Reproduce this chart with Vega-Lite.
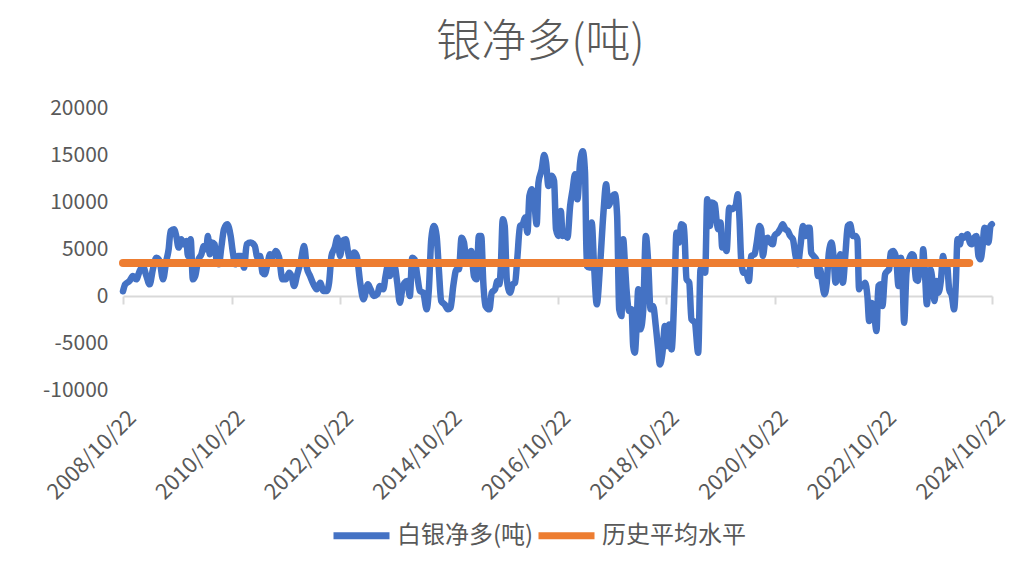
{
  "$schema": "https://vega.github.io/schema/vega-lite/v6.json",
  "autosize": "none",
  "width": 869,
  "height": 282,
  "padding": {"left": 123, "top": 108, "right": 27, "bottom": 193},
  "background": "white",
  "config": {"view": {"stroke": null}, "font": "Noto Sans CJK SC"},
  "title": {"text": "银净多(吨)", "fontSize": 45, "font": "Noto Sans CJK SC", "fontWeight": 300, "color": "#595959", "anchor": "middle", "dx": -17, "offset": 31},
  "datasets": {
    "net": [
      {"d":"2008-10-22","v":500},{"d":"2008-11-06","v":1240},{"d":"2008-12-05","v":1600},{"d":"2008-12-28","v":2130},{"d":"2009-01-19","v":1770},{"d":"2009-02-11","v":2660},{"d":"2009-03-05","v":3200},{"d":"2009-03-28","v":2130},{"d":"2009-04-19","v":1240},{"d":"2009-05-11","v":2840},{"d":"2009-06-03","v":4080},{"d":"2009-06-25","v":3730},{"d":"2009-07-18","v":1770},{"d":"2009-08-09","v":3730},{"d":"2009-08-25","v":4970},{"d":"2009-09-07","v":6920},{"d":"2009-09-30","v":7100},{"d":"2009-10-15","v":6390},{"d":"2009-10-31","v":5150},{"d":"2009-11-18","v":6030},{"d":"2009-12-04","v":5500},{"d":"2009-12-22","v":5860},{"d":"2010-01-02","v":4260},{"d":"2010-01-20","v":6030},{"d":"2010-02-04","v":1770},{"d":"2010-02-20","v":2130},{"d":"2010-03-10","v":3730},{"d":"2010-04-02","v":4440},{"d":"2010-04-19","v":5330},{"d":"2010-05-05","v":4970},{"d":"2010-05-16","v":6390},{"d":"2010-05-28","v":4440},{"d":"2010-06-12","v":5680},{"d":"2010-06-30","v":5500},{"d":"2010-07-14","v":3730},{"d":"2010-07-29","v":3370},{"d":"2010-08-14","v":5150},{"d":"2010-09-01","v":7100},{"d":"2010-09-23","v":7630},{"d":"2010-10-16","v":6390},{"d":"2010-10-31","v":4620},{"d":"2010-11-16","v":3370},{"d":"2010-12-04","v":4260},{"d":"2010-12-27","v":4260},
      {"d":"2011-01-14","v":3020},{"d":"2011-02-01","v":5500},{"d":"2011-02-28","v":5680},{"d":"2011-03-27","v":5330},{"d":"2011-04-14","v":4080},{"d":"2011-05-02","v":4260},{"d":"2011-05-18","v":2480},{"d":"2011-06-02","v":2310},{"d":"2011-06-20","v":3370},{"d":"2011-07-08","v":4440},{"d":"2011-07-24","v":4080},{"d":"2011-08-15","v":4790},{"d":"2011-09-07","v":4080},{"d":"2011-09-29","v":1770},{"d":"2011-10-22","v":1770},{"d":"2011-11-13","v":2480},{"d":"2011-11-29","v":2130},{"d":"2011-12-17","v":1065},{"d":"2012-01-04","v":2130},{"d":"2012-01-31","v":3730},{"d":"2012-02-22","v":5330},{"d":"2012-03-11","v":3020},{"d":"2012-04-02","v":2130},{"d":"2012-04-25","v":1240},{"d":"2012-05-17","v":710},{"d":"2012-06-09","v":1420},{"d":"2012-07-01","v":530},{"d":"2012-07-23","v":530},{"d":"2012-08-08","v":1420},{"d":"2012-08-24","v":4260},{"d":"2012-09-15","v":5150},{"d":"2012-10-03","v":6210},{"d":"2012-10-21","v":4260},{"d":"2012-11-06","v":5860},{"d":"2012-11-28","v":6030},{"d":"2012-12-14","v":4620},{"d":"2013-01-05","v":3550},{"d":"2013-01-23","v":4620},{"d":"2013-02-10","v":4260},{"d":"2013-03-05","v":1420},{"d":"2013-03-27","v":-355},
      {"d":"2013-04-26","v":1240},{"d":"2013-05-14","v":710},{"d":"2013-06-05","v":0},{"d":"2013-06-28","v":180},{"d":"2013-07-16","v":1065},{"d":"2013-08-07","v":710},{"d":"2013-08-23","v":2130},{"d":"2013-09-07","v":3200},{"d":"2013-09-21","v":2130},{"d":"2013-10-07","v":2840},{"d":"2013-10-22","v":3200},{"d":"2013-11-09","v":1420},{"d":"2013-11-27","v":-710},{"d":"2013-12-13","v":710},{"d":"2013-12-29","v":1420},{"d":"2014-01-15","v":1600},{"d":"2014-02-02","v":0},{"d":"2014-02-18","v":4080},{"d":"2014-03-06","v":3900},{"d":"2014-03-24","v":2130},{"d":"2014-04-11","v":530},{"d":"2014-05-03","v":355},{"d":"2014-05-26","v":-1420},{"d":"2014-06-10","v":710},{"d":"2014-06-26","v":6030},{"d":"2014-07-14","v":7450},{"d":"2014-08-01","v":6390},{"d":"2014-08-16","v":2840},{"d":"2014-09-01","v":-530},{"d":"2014-09-24","v":-890},{"d":"2014-10-16","v":-1420},{"d":"2014-11-03","v":-1240},{"d":"2014-11-21","v":1065},{"d":"2014-12-13","v":2840},{"d":"2014-12-29","v":2840},{"d":"2015-01-16","v":6210},{"d":"2015-02-01","v":5680},{"d":"2015-02-19","v":3550},{"d":"2015-03-08","v":4440},{"d":"2015-03-22","v":4790},{"d":"2015-04-09","v":2130},{"d":"2015-04-27","v":1770},{"d":"2015-05-12","v":6390},{"d":"2015-05-28","v":6390},{"d":"2015-06-11","v":1420},{"d":"2015-06-26","v":-1065},
      {"d":"2015-07-22","v":-1420},{"d":"2015-08-07","v":355},{"d":"2015-08-29","v":710},{"d":"2015-09-14","v":1600},{"d":"2015-09-27","v":1240},{"d":"2015-10-06","v":2840},{"d":"2015-10-20","v":8170},{"d":"2015-11-02","v":7450},{"d":"2015-11-16","v":1770},{"d":"2015-12-08","v":355},{"d":"2015-12-26","v":1240},{"d":"2016-01-11","v":1420},{"d":"2016-01-26","v":4080},{"d":"2016-02-13","v":7450},{"d":"2016-03-02","v":7630},{"d":"2016-03-18","v":8340},{"d":"2016-04-03","v":6740},{"d":"2016-04-16","v":10650},{"d":"2016-05-02","v":11360},{"d":"2016-05-17","v":10290},{"d":"2016-06-04","v":7630},{"d":"2016-06-16","v":12070},{"d":"2016-07-08","v":13490},{"d":"2016-07-24","v":15000},{"d":"2016-08-06","v":14200},{"d":"2016-08-22","v":11710},{"d":"2016-09-13","v":12780},{"d":"2016-09-29","v":12240},{"d":"2016-10-12","v":7100},{"d":"2016-10-28","v":6390},{"d":"2016-11-13","v":9050},{"d":"2016-11-26","v":6390},{"d":"2016-12-12","v":6570},{"d":"2016-12-28","v":6210},{"d":"2017-01-15","v":9590},{"d":"2017-02-01","v":11360},{"d":"2017-02-17","v":12960},{"d":"2017-03-05","v":10290},{"d":"2017-03-23","v":14200},{"d":"2017-04-10","v":15400},{"d":"2017-04-25","v":13140},{"d":"2017-05-07","v":3200},{"d":"2017-05-25","v":3020},{"d":"2017-06-09","v":7810},{"d":"2017-06-25","v":3200},{"d":"2017-07-13","v":-890},{"d":"2017-08-04","v":3200},{"d":"2017-08-27","v":8870},{"d":"2017-09-14","v":11890},{"d":"2017-09-29","v":9590},
      {"d":"2017-10-27","v":10650},{"d":"2017-11-12","v":10830},{"d":"2017-11-27","v":8520},{"d":"2017-12-11","v":-1420},{"d":"2017-12-26","v":-2130},{"d":"2018-01-07","v":6030},{"d":"2018-01-18","v":3550},{"d":"2018-01-29","v":710},{"d":"2018-02-16","v":-1600},{"d":"2018-03-04","v":-1420},{"d":"2018-03-15","v":-5330},{"d":"2018-03-26","v":-6030},{"d":"2018-04-06","v":-3550},{"d":"2018-04-18","v":710},{"d":"2018-05-03","v":-3550},{"d":"2018-05-21","v":-1600},{"d":"2018-06-08","v":6390},{"d":"2018-06-24","v":3550},{"d":"2018-07-10","v":-1420},{"d":"2018-07-27","v":-1065},{"d":"2018-08-14","v":-3200},{"d":"2018-08-30","v":-5680},{"d":"2018-09-10","v":-7280},{"d":"2018-09-28","v":-6030},{"d":"2018-10-14","v":-3200},{"d":"2018-10-30","v":-5330},{"d":"2018-11-12","v":-3020},{"d":"2018-11-28","v":-5680},{"d":"2018-12-20","v":1770},{"d":"2018-12-31","v":6740},{"d":"2019-01-18","v":5680},{"d":"2019-02-01","v":7630},{"d":"2019-02-19","v":7450},{"d":"2019-03-09","v":1770},{"d":"2019-03-27","v":1420},{"d":"2019-04-11","v":-2485},{"d":"2019-05-04","v":-2840},{"d":"2019-05-26","v":-6030},{"d":"2019-06-11","v":2840},{"d":"2019-06-29","v":2840},{"d":"2019-07-12","v":2485},{"d":"2019-07-26","v":10290},{"d":"2019-08-13","v":7450},{"d":"2019-08-26","v":9940},{"d":"2019-09-15","v":9760},{"d":"2019-09-26","v":8170},{"d":"2019-10-08","v":7100},{"d":"2019-10-23","v":7810},{"d":"2019-11-04","v":5150},{"d":"2019-11-17","v":5680},{"d":"2019-12-03","v":4790},{"d":"2019-12-21","v":9400},{"d":"2020-01-05","v":9230},
      {"d":"2020-02-01","v":9590},{"d":"2020-02-17","v":10830},{"d":"2020-02-28","v":8170},{"d":"2020-03-10","v":3900},{"d":"2020-03-26","v":2480},{"d":"2020-04-13","v":2480},{"d":"2020-05-01","v":1600},{"d":"2020-05-16","v":4260},{"d":"2020-06-08","v":4440},{"d":"2020-06-23","v":5680},{"d":"2020-07-11","v":7450},{"d":"2020-07-23","v":7100},{"d":"2020-08-03","v":4260},{"d":"2020-08-21","v":6030},{"d":"2020-09-05","v":6210},{"d":"2020-09-21","v":5680},{"d":"2020-10-09","v":5500},{"d":"2020-10-20","v":6390},{"d":"2020-11-12","v":6740},{"d":"2020-11-27","v":7100},{"d":"2020-12-15","v":7630},{"d":"2021-01-02","v":7100},{"d":"2021-01-18","v":6920},{"d":"2021-02-03","v":6390},{"d":"2021-02-21","v":6030},{"d":"2021-03-11","v":4260},{"d":"2021-03-26","v":3370},{"d":"2021-04-13","v":5330},{"d":"2021-04-29","v":7450},{"d":"2021-05-17","v":6390},{"d":"2021-06-01","v":7270},{"d":"2021-06-13","v":7270},{"d":"2021-06-24","v":4620},{"d":"2021-07-10","v":4260},{"d":"2021-07-28","v":3900},{"d":"2021-08-08","v":2130},{"d":"2021-08-23","v":2840},{"d":"2021-09-06","v":1420},{"d":"2021-09-22","v":180},{"d":"2021-10-07","v":1420},{"d":"2021-10-21","v":4620},{"d":"2021-11-08","v":5680},{"d":"2021-11-21","v":4260},{"d":"2021-12-05","v":1420},{"d":"2021-12-20","v":2130},{"d":"2022-01-05","v":4440},{"d":"2022-01-23","v":1420},{"d":"2022-02-10","v":4620},{"d":"2022-02-25","v":7450},{"d":"2022-03-13","v":7630},{"d":"2022-03-31","v":6390},{"d":"2022-04-18","v":6390},
      {"d":"2022-05-01","v":6030},{"d":"2022-05-12","v":710},{"d":"2022-05-24","v":1240},{"d":"2022-06-08","v":1065},{"d":"2022-06-22","v":1420},{"d":"2022-07-07","v":0},{"d":"2022-07-19","v":-2660},{"d":"2022-07-30","v":-710},{"d":"2022-08-15","v":-890},{"d":"2022-08-28","v":-2840},{"d":"2022-09-06","v":-3730},{"d":"2022-09-19","v":1065},{"d":"2022-10-05","v":1240},{"d":"2022-10-16","v":-1065},{"d":"2022-11-03","v":2310},{"d":"2022-11-19","v":2660},{"d":"2022-11-30","v":2840},{"d":"2022-12-11","v":4620},{"d":"2022-12-27","v":4790},{"d":"2023-01-10","v":4440},{"d":"2023-01-19","v":3550},{"d":"2023-02-01","v":1065},{"d":"2023-02-17","v":4080},{"d":"2023-02-28","v":2130},{"d":"2023-03-11","v":-2840},{"d":"2023-03-27","v":2480},{"d":"2023-04-14","v":3900},{"d":"2023-05-02","v":4440},{"d":"2023-05-15","v":4260},{"d":"2023-05-29","v":1770},{"d":"2023-06-11","v":1600},{"d":"2023-06-24","v":2840},{"d":"2023-07-08","v":2310},{"d":"2023-07-17","v":4970},{"d":"2023-07-30","v":2130},{"d":"2023-08-11","v":-890},{"d":"2023-08-22","v":1420},{"d":"2023-09-04","v":2840},{"d":"2023-09-18","v":1600},{"d":"2023-10-01","v":-530},{"d":"2023-10-15","v":1600},{"d":"2023-10-28","v":355},{"d":"2023-11-13","v":1600},{"d":"2023-11-28","v":4260},{"d":"2023-12-12","v":2840},{"d":"2023-12-25","v":3200},{"d":"2024-01-08","v":710},{"d":"2024-01-26","v":0},{"d":"2024-02-10","v":-1420},{"d":"2024-02-22","v":1420},{"d":"2024-03-04","v":6030},{"d":"2024-03-20","v":5500},{"d":"2024-04-02","v":6390},{"d":"2024-04-18","v":6210},{"d":"2024-05-10","v":6570},{"d":"2024-05-26","v":5680},{"d":"2024-06-08","v":5500},{"d":"2024-06-24","v":6210},{"d":"2024-07-10","v":6390},{"d":"2024-07-23","v":4260},{"d":"2024-08-06","v":3900},{"d":"2024-08-19","v":5150},{"d":"2024-09-01","v":7270},{"d":"2024-09-15","v":7100},{"d":"2024-09-28","v":5680},{"d":"2024-10-12","v":7450},{"d":"2024-10-21","v":7630}
    ],
    "avg": [
      {"d":"2008-10-22","v":3500},{"d":"2024-05-22","v":3500}
    ]
  },
  "layer": [
    {
      "data": {"name": "net"},
      "mark": {"type": "line", "strokeWidth": 6.5, "interpolate": "monotone", "strokeJoin": "round", "strokeCap": "round"},
      "encoding": {
        "x": {
          "field": "d", "type": "temporal",
          "scale": {"domain": [{"year": 2008, "month": 10, "date": 22}, {"year": 2024, "month": 10, "date": 22}]},
          "axis": {
            "title": null, "orient": "bottom", "offset": -94,
            "values": [{"year": 2008, "month": 10, "date": 22}, {"year": 2010, "month": 10, "date": 22}, {"year": 2012, "month": 10, "date": 22}, {"year": 2014, "month": 10, "date": 22}, {"year": 2016, "month": 10, "date": 22}, {"year": 2018, "month": 10, "date": 22}, {"year": 2020, "month": 10, "date": 22}, {"year": 2022, "month": 10, "date": 22}, {"year": 2024, "month": 10, "date": 22}],
            "format": "%Y/%m/%d", "grid": false,
            "domainColor": "#D9D9D9", "domainWidth": 2, "tickColor": "#D9D9D9", "tickWidth": 2, "tickSize": 8,
            "labelAngle": -45, "labelAlign": "right", "labelBaseline": "middle", "labelPadding": 110, "labelOffset": 9,
            "labelFontSize": 22, "labelColor": "#595959", "labelFont": "Noto Sans CJK SC", "labelOverlap": false, "labelFlush": false, "labelBound": false
          }
        },
        "y": {
          "field": "v", "type": "quantitative",
          "scale": {"domain": [-10000, 20000], "nice": false, "zero": false},
          "axis": {
            "title": null, "values": [-10000, -5000, 0, 5000, 10000, 15000, 20000], "labelExpr": "'' + datum.value",
            "domain": false, "ticks": false, "grid": false, "labelPadding": 15,
            "labelFontSize": 21, "labelColor": "#595959", "labelFont": "Noto Sans CJK SC"
          }
        },
        "color": {
          "datum": "白银净多(吨)", "type": "nominal",
          "scale": {"domain": ["白银净多(吨)", "历史平均水平"], "range": ["#4472C4", "#ED7D31"]},
          "legend": {
            "title": null, "orient": "none", "direction": "horizontal", "legendX": 207, "legendY": 396,
            "symbolType": "stroke", "symbolSize": 3136, "symbolStrokeWidth": 7,
            "labelFontSize": 24, "labelColor": "#595959", "labelFont": "Noto Sans CJK SC",
            "labelOffset": 4, "columnPadding": -10, "padding": 0
          }
        }
      }
    },
    {
      "data": {"name": "avg"},
      "mark": {"type": "line", "strokeWidth": 8, "strokeCap": "round"},
      "encoding": {
        "x": {"field": "d", "type": "temporal"},
        "y": {"field": "v", "type": "quantitative"},
        "color": {"datum": "历史平均水平", "type": "nominal"}
      }
    }
  ]
}
